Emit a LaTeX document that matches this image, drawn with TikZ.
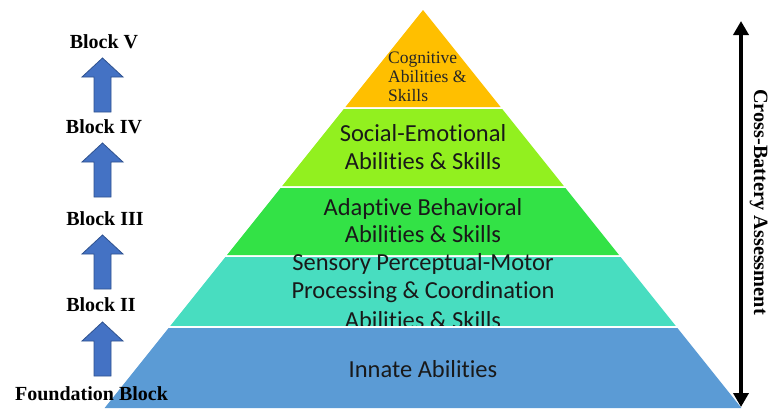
\documentclass[tikz,border=0pt]{standalone}
\usepackage{fontspec}
\setmainfont{Liberation Serif}
\newfontfamily\calib[Ligatures={NoCommon,NoDiscretionary,NoRare,NoContextual}]{Carlito}
\usetikzlibrary{arrows.meta}
\definecolor{lorange}{HTML}{FFBF00}
\definecolor{lgreen}{HTML}{92F01F}
\definecolor{mgreen}{HTML}{33E246}
\definecolor{lteal}{HTML}{48DDC0}
\definecolor{lblue}{HTML}{5B9BD5}
\definecolor{arrowfill}{HTML}{4472C4}
\definecolor{arrowedge}{HTML}{2F528F}
\tikzset{
  layertext/.style={font=\calib\fontsize{24.5bp}{27.6bp}\selectfont, anchor=base, inner sep=0pt, text=black!90},
  cogtext/.style={font=\fontsize{17.5bp}{19bp}\selectfont, anchor=base west, inner sep=0pt, text=black!85},
  blocklabel/.style={font=\bfseries\fontsize{20bp}{24bp}\selectfont, anchor=base, inner sep=0pt},
  blockarrow/.style={fill=arrowfill, draw=arrowedge, line width=0.8bp},
}
\begin{document}
\begin{tikzpicture}[x=1bp,y=-1bp]
\useasboundingbox (0,0) rectangle (770,408);
\fill[white] (0,0) rectangle (770,408);
% pyramid layers
\fill[lorange] (423,10) -- (500.6,107) -- (345.4,107) -- cycle;
\fill[lgreen] (343.8,109) -- (502.2,109) -- (563.8,186) -- (282.2,186) -- cycle;
\fill[mgreen] (280.6,188) -- (565.4,188) -- (619,255) -- (227,255) -- cycle;
\fill[lteal] (225.4,257) -- (620.6,257) -- (675.8,326) -- (170.2,326) -- cycle;
% layer texts
\node[cogtext] (cog1) at (388,63) {Cognitive};
\node[cogtext] (cog2) at (388,82) {Abilities \&};
\node[cogtext] (cog3) at (388,101) {Skills};
\node[layertext] (se1) at (423,141.7) {Social-Emotional};
\node[layertext] (se2) at (423,169.3) {Abilities \& Skills};
\node[layertext] (ab1) at (423,215) {Adaptive Behavioral};
\node[layertext] (ab2) at (423,242.7) {Abilities \& Skills};
\node[layertext] (sp1) at (423,270.7) {Sensory Perceptual-Motor};
\node[layertext] (sp2) at (423,298.3) {Processing \& Coordination};
\node[layertext] (sp3) at (423,328.5) {Abilities \& Skills};
\fill[white] (170.2,326) -- (675.8,326) -- (677.4,328) -- (168.6,328) -- cycle;
\fill[lblue] (168.6,328) -- (677.4,328) -- (741.4,408) -- (104.6,408) -- cycle;
\node[layertext] (inn) at (423,377) {Innate Abilities};
% left block labels
\node[blocklabel] (b5) at (104,48.3) {Block V};
\node[blocklabel] (b4) at (104,133) {Block IV};
\node[blocklabel] (b3) at (105,225) {Block III};
\node[blocklabel] (b2) at (101,311.7) {Block II};
\node[blocklabel] (b1) at (91.5,400) {Foundation Block};
% block arrows
\foreach \t/\b in {58/112, 143/197, 235/289, 322/376}{
  \draw[blockarrow] (102.5,\t) -- (123,\t+19) -- (111,\t+19) -- (111,\b) -- (94,\b) -- (94,\t+19) -- (82,\t+19) -- cycle;
}
% right double arrow
\coordinate (atop) at (741,21);
\coordinate (abot) at (741,407);
\draw[line width=4bp, {Triangle[width=15bp,length=14bp]}-{Triangle[width=15bp,length=14bp]}] (atop) -- (abot);
\node[font=\bfseries\fontsize{20.3bp}{24bp}\selectfont, rotate=-90, anchor=base, inner sep=0pt] (cba) at (754,202) {Cross-Battery Assessment};
\end{tikzpicture}
\end{document}
